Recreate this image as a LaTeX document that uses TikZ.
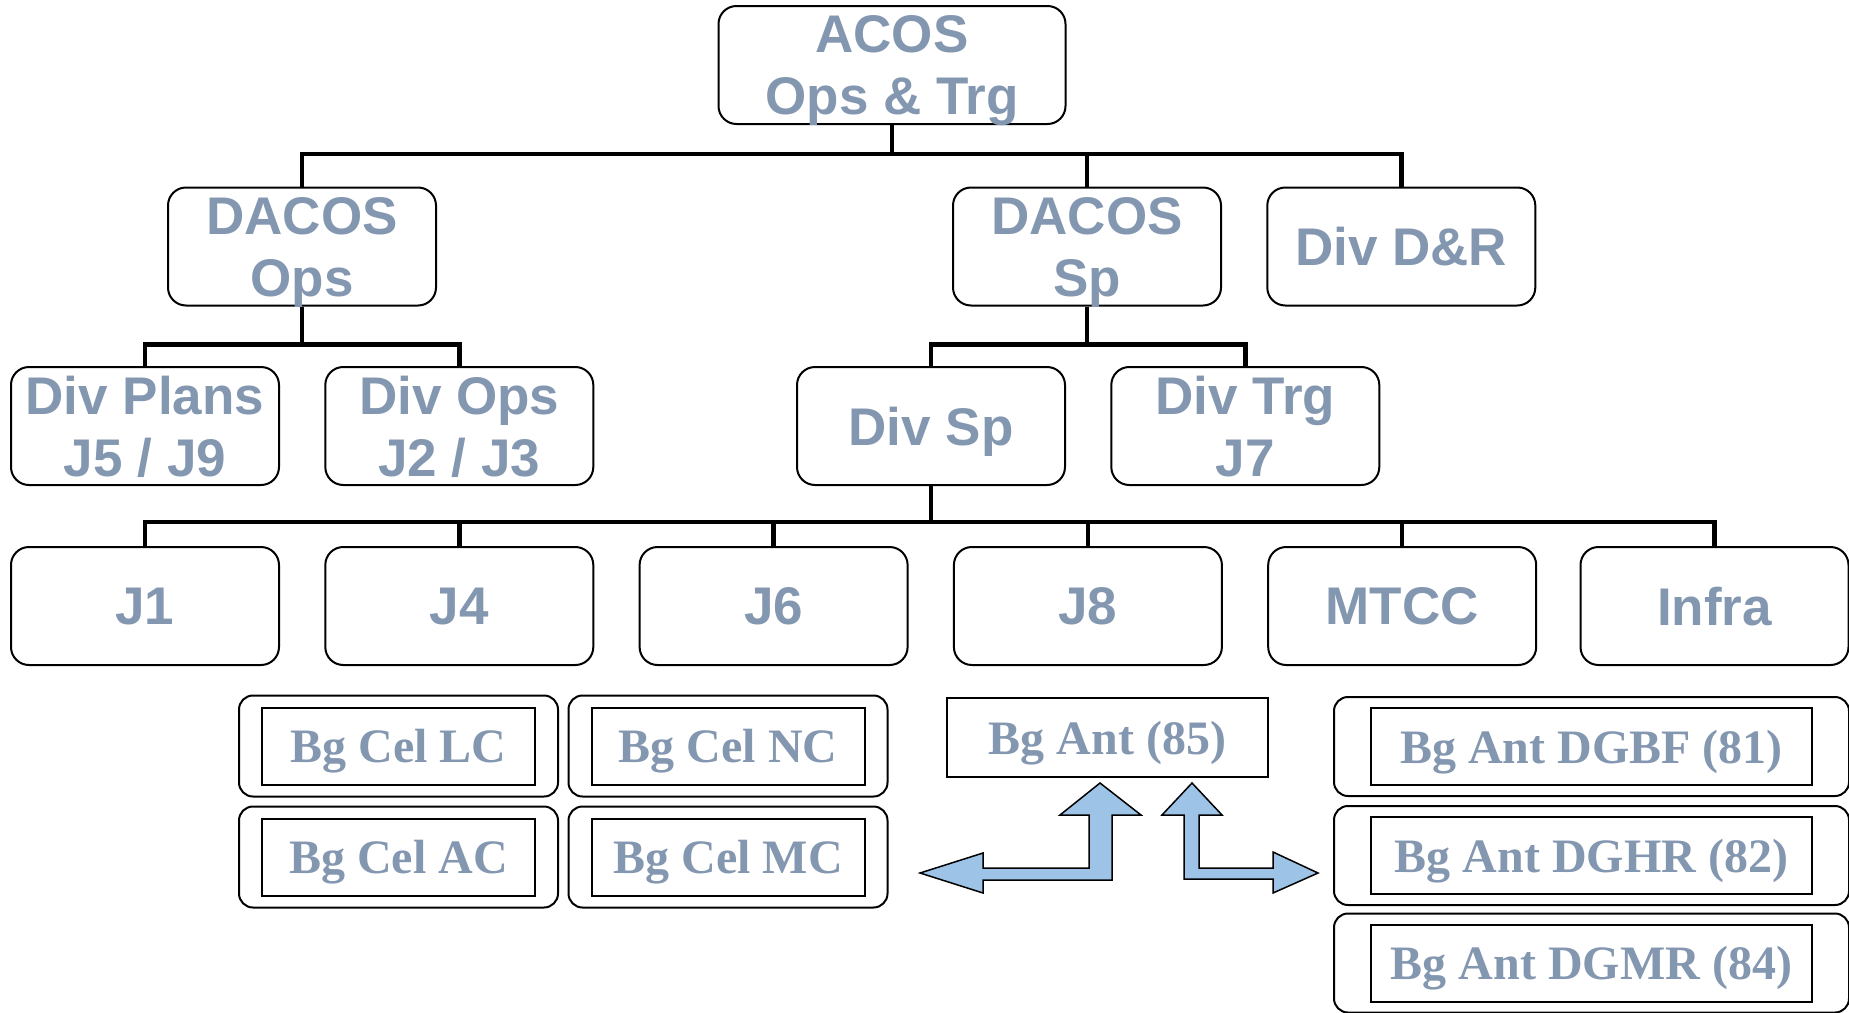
\documentclass[tikz,border=0pt]{standalone}
\usepackage{fontspec}
\setmainfont{Liberation Serif}
\setsansfont{Liberation Sans}
\usetikzlibrary{fit}
\definecolor{labelgray}{HTML}{8497B0}
\definecolor{arrowblue}{HTML}{9DC3E6}
\begin{document}
\begin{tikzpicture}[x=1pt,y=-1pt,node distance=314.3pt,
      org/.style={rectangle,rounded corners=18pt,draw,line width=2pt,minimum width=268pt,minimum height=118pt,
        align=center,text=labelgray,inner sep=0pt,text depth=0pt,font=\fontsize{53}{62}\selectfont\sffamily\bfseries},
      cell/.style={rectangle,draw,line width=2pt,minimum width=273pt,minimum height=77pt,text depth=0pt,
        text=labelgray,font=\fontsize{48}{56}\selectfont\bfseries},
      cellframe/.style={rectangle,rounded corners=14pt,draw,line width=2pt,inner xsep=22pt,inner ysep=11pt},
      link/.style={draw,line width=4.5pt},
      tree/.style={to path={-- ++(0,#1) -| (\tikztotarget)}},
      blockarrow/.style={draw,fill=arrowblue,line width=1.5pt,line join=miter}]
      \useasboundingbox (0,0) rectangle (1849,1012);

      % org chart
      \node[org,minimum width=347pt] (acos) at (892,65) {ACOS\\Ops \& Trg};
      \node[org] (dacosops) at (302,246.5) {DACOS\\Ops};
      \node[org] (dacossp) at (1087,246.5) {DACOS\\Sp};
      \node[org] (divdr) [right of=dacossp] {Div D\&R};

      \node[org] (divplans) at (145,426) {Div Plans\\J5 / J9};
      \node[org] (divops) [right of=divplans] {Div Ops\\J2 / J3};
      \node[org] (divsp) at (931,426) {Div Sp};
      \node[org] (divtrg) [right of=divsp] {Div Trg\\J7};

      \node[org] (j1) at (145,606) {J1};
      \node[org] (j4) [right of=j1] {J4};
      \node[org] (j6) [right of=j4] {J6};
      \node[org] (j8) [right of=j6] {J8};
      \node[org] (mtcc) [right of=j8] {MTCC};
      \node[org] (infra) [right of=mtcc,xshift=-2pt] {Infra};

      \path[link]
        (acos.south) edge[tree=29] (dacosops.north)
                     edge[tree=29] (dacossp.north)
                     edge[tree=29] (divdr.north)
        (dacosops.south) edge[tree=38] (divplans.north)
                         edge[tree=38] (divops.north)
        (dacossp.south) edge[tree=38] (divsp.north)
                        edge[tree=38] (divtrg.north)
        (divsp.south) edge[tree=36] (j1.north)
                      edge[tree=36] (j4.north)
                      edge[tree=36] (j6.north)
                      edge[tree=36] (j8.north)
                      edge[tree=36] (mtcc.north)
                      edge[tree=36] (infra.north);

      % brigades
      \node[cell] (lc) at (398.5,746) {Bg Cel LC};
      \node[cell] (nc) [right of=lc,node distance=329.5pt] {Bg Cel NC};
      \node[cell] (ac) at (398.5,857) {Bg Cel AC};
      \node[cell] (mc) [right of=ac,node distance=329.5pt] {Bg Cel MC};
      \foreach \c in {lc,nc,ac,mc}
        \node[cellframe,fit=(\c)] (\c-frame) {};

      \node[cell,minimum width=321pt,minimum height=79pt] (ant85) at (1107.5,737.5) {Bg Ant (85)};

      \node[cell,minimum width=441pt] (dgbf) at (1591.5,746.5) {Bg Ant DGBF (81)};
      \node[cell,minimum width=441pt] (dghr) at (1591.5,855.5) {Bg Ant DGHR (82)};
      \node[cell,minimum width=441pt] (dgmr) at (1591.5,963) {Bg Ant DGMR (84)};
      \foreach \c in {dgbf,dghr,dgmr}
        \node[cellframe,inner xsep=36pt,inner ysep=10pt,fit=(\c)] (\c-frame) {};

      % block arrows
      \draw[blockarrow] (920,873) -- (983,853) -- (983,868) -- (1089,868) -- (1089,815) -- (1060,815)
        -- (1100,783) -- (1141,815) -- (1112,815) -- (1112,880) -- (983,880) -- (983,893) -- cycle;
      \draw[blockarrow] (1192,783) -- (1222,815) -- (1199,815) -- (1199,868) -- (1273,868) -- (1273,852)
        -- (1318,873) -- (1273,893) -- (1273,879) -- (1184,879) -- (1184,815) -- (1162,815) -- cycle;
    \end{tikzpicture}
\end{document}
